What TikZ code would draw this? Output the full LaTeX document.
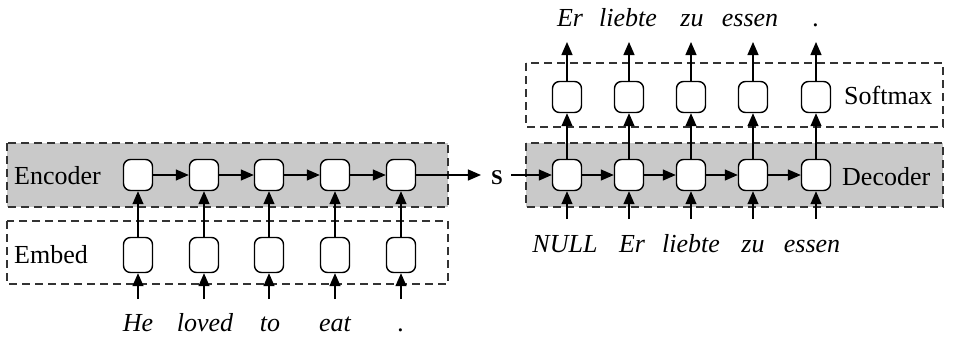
\documentclass[tikz,border=0pt]{standalone}
\usepackage{fontspec}
\setmainfont{Liberation Serif}
\usetikzlibrary{arrows.meta}
\begin{document}
\begin{tikzpicture}[x=1pt,y=-1pt]
\tikzstyle{every node}+=[inner sep=0pt]
\tikzstyle{cell}=[draw, fill=white, rounded corners=7pt, minimum width=29pt, minimum height=31pt, line width=1.4pt]
\tikzstyle{layer}=[draw, dash pattern=on 8pt off 5pt, line width=1.4pt, draw=black!80]
\tikzstyle{link}=[-{Triangle[length=13pt,width=11pt]}, line width=1.3pt]
\tikzstyle{word}=[anchor=base, font=\fontsize{26}{28}\selectfont\itshape]
\tikzstyle{lbl}=[anchor=base west, font=\fontsize{26}{28}\selectfont]
\useasboundingbox (0,0) rectangle (975,338);
\draw [layer, fill=gray!42] (7,143) rectangle (448,207);
\draw [layer] (7,221) rectangle (448,284);
\draw [layer, fill=gray!42] (526,143) rectangle (943,207);
\draw [layer] (526,63) rectangle (943,127);
\node [lbl] (enclbl) at (14,184) {Encoder};
\node [lbl] (emblbl) at (14,263) {Embed};
\node [lbl] (declbl) at (842,185) {Decoder};
\node [lbl] (smlbl) at (844,104) {Softmax};
\node [lbl, anchor=center, font=\fontsize{21}{23}\selectfont\bfseries] (s) at (497,178) {S};
% encoder side
\node [cell] (enc1) at (138,175) {};
\node [cell] (enc2) at (204,175) {};
\node [cell] (enc3) at (269,175) {};
\node [cell] (enc4) at (335,175) {};
\node [cell] (enc5) at (401,175) {};
\node [cell, minimum height=35pt] (emb1) at (138,255) {};
\node [cell, minimum height=35pt] (emb2) at (204,255) {};
\node [cell, minimum height=35pt] (emb3) at (269,255) {};
\node [cell, minimum height=35pt] (emb4) at (335,255) {};
\node [cell, minimum height=35pt] (emb5) at (401,255) {};
\coordinate (in1) at (138,299);
\coordinate (in2) at (204,299);
\coordinate (in3) at (269,299);
\coordinate (in4) at (335,299);
\coordinate (in5) at (401,299);
\node [word] (w1) at (138,331) {He};
\node [word] (w2) at (205,331) {loved};
\node [word] (w3) at (270,331) {to};
\node [word] (w4) at (335,331) {eat};
\node [word] (w5) at (401,331) {.};
\draw [link] (in1) -- (emb1.south);
\draw [link] (in2) -- (emb2.south);
\draw [link] (in3) -- (emb3.south);
\draw [link] (in4) -- (emb4.south);
\draw [link] (in5) -- (emb5.south);
\draw [link] (emb1.north) -- (enc1.south);
\draw [link] (emb2.north) -- (enc2.south);
\draw [link] (emb3.north) -- (enc3.south);
\draw [link] (emb4.north) -- (enc4.south);
\draw [link] (emb5.north) -- (enc5.south);
\draw [link] (enc1.east) -- (enc2.west);
\draw [link] (enc2.east) -- (enc3.west);
\draw [link] (enc3.east) -- (enc4.west);
\draw [link] (enc4.east) -- (enc5.west);
\draw [link] (enc5.east) -- ([xshift=-10pt]s.west |- enc5.east);
% decoder side
\node [cell] (dec1) at (567,175) {};
\node [cell] (dec2) at (629,175) {};
\node [cell] (dec3) at (691,175) {};
\node [cell] (dec4) at (753,175) {};
\node [cell] (dec5) at (816,175) {};
\node [cell] (sm1) at (567,97) {};
\node [cell] (sm2) at (629,97) {};
\node [cell] (sm3) at (691,97) {};
\node [cell] (sm4) at (753,97) {};
\node [cell] (sm5) at (816,97) {};
\coordinate (din1) at (567,219);
\coordinate (din2) at (629,219);
\coordinate (din3) at (691,219);
\coordinate (din4) at (753,219);
\coordinate (din5) at (816,219);
\coordinate (out1) at (567,42);
\coordinate (out2) at (629,42);
\coordinate (out3) at (691,42);
\coordinate (out4) at (753,42);
\coordinate (out5) at (816,42);
\node [word] (d1) at (565,252) {NULL};
\node [word] (d2) at (632,252) {Er};
\node [word] (d3) at (691,252) {liebte};
\node [word] (d4) at (753,252) {zu};
\node [word] (d5) at (812,252) {essen};
\node [word] (o1) at (570,26) {Er};
\node [word] (o2) at (628,26) {liebte};
\node [word] (o3) at (692,26) {zu};
\node [word] (o4) at (750,26) {essen};
\node [word] (o5) at (816,26) {.};
\draw [link] ([xshift=8pt]s.east |- dec1.west) -- (dec1.west);
\draw [link] (dec1.east) -- (dec2.west);
\draw [link] (dec2.east) -- (dec3.west);
\draw [link] (dec3.east) -- (dec4.west);
\draw [link] (dec4.east) -- (dec5.west);
\draw [link] (din1) -- (dec1.south);
\draw [link] (din2) -- (dec2.south);
\draw [link] (din3) -- (dec3.south);
\draw [link] (din4) -- (dec4.south);
\draw [link] (din5) -- (dec5.south);
\draw [link] (dec1.north) -- (sm1.south);
\draw [link] (dec2.north) -- (sm2.south);
\draw [link] (dec3.north) -- (sm3.south);
\draw [link] (dec4.north) -- (sm4.south);
\draw [link] (dec5.north) -- (sm5.south);
\draw [link] (sm1.north) -- (out1);
\draw [link] (sm2.north) -- (out2);
\draw [link] (sm3.north) -- (out3);
\draw [link] (sm4.north) -- (out4);
\draw [link] (sm5.north) -- (out5);
\end{tikzpicture}
\end{document}
